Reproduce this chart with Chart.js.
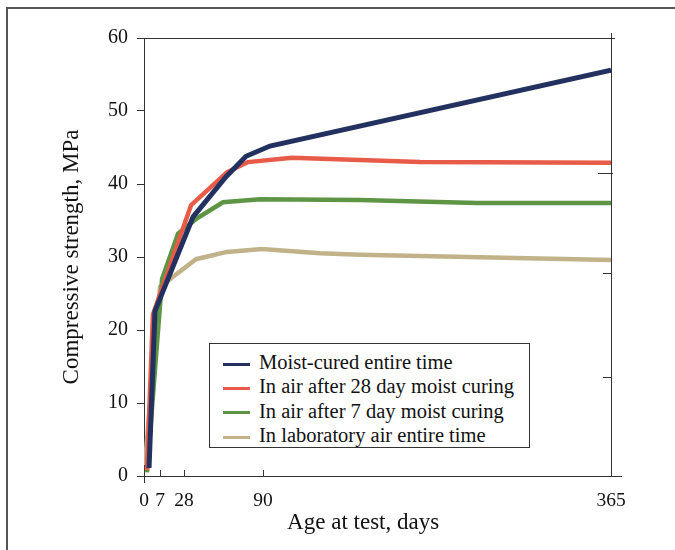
<!DOCTYPE html>
<html>
<head>
<meta charset="utf-8">
<script src="https://cdn.jsdelivr.net/npm/chart.js@4/dist/chart.umd.min.js"></script>
<style>
  body { margin: 0; background: #fff; }
  #wrap { position: relative; width: 675px; height: 550px; overflow: hidden; }
  #frame { position: absolute; left: 6px; top: 7px; width: 700px; height: 600px;
           border-top: 2px solid #555; border-left: 2px solid #555; }
  #legend { position: absolute; left: 209px; top: 343px; width: 321px; height: 105px;
            border: 1px solid #333; background: #fff; padding-top: 6px; box-sizing: border-box;
            font-family: "Liberation Serif", serif; font-size: 20.5px; color: #111; }
  #legend div { height: 24.3px; line-height: 24.3px; white-space: nowrap; }
  #legend span.sw { display: inline-block; width: 27px; height: 3px; margin: 0 9px 0 13px; vertical-align: middle; }
</style>
</head>
<body>
<div id="wrap">
  <div id="frame"></div>
  <canvas id="chart" width="675" height="550"></canvas>
  <div id="legend"></div>
</div>
<script>
// Data (age in days, strength in MPa)
const seriesLabels = [
  "Moist-cured entire time",
  "In air after 28 day moist curing",
  "In air after 7 day moist curing",
  "In laboratory air entire time"
];
const seriesColors = ["#22315f", "#e85b48", "#5e9545", "#c2b28a"];

const moistDays = [2.2, 4.8, 35.1, 61.0, 76.7, 95.5, 365];
const moistVals = [1.1, 22.6, 35.5, 41.0, 43.8, 45.2, 55.6];

const air28Days = [1.3, 3.9, 33.5, 61.7, 78.2, 112.9, 214.1, 365];
const air28Vals = [0.8, 22.1, 37.1, 41.6, 43.0, 43.6, 43.0, 42.9];

const air7Days = [1.3, 8.8, 22.8, 38.2, 58.6, 87.7, 166.6, 259.1, 365];
const air7Vals = [0.5, 27.0, 33.2, 35.3, 37.5, 37.9, 37.8, 37.4, 37.4];

const labDays = [0.4, 7.0, 18.4, 37.4, 61.7, 89.2, 135.0, 166.6, 365];
const labVals = [1.5, 25.9, 27.3, 29.7, 30.7, 31.1, 30.5, 30.3, 29.6];

const xTicks = [0, 7, 28, 90, 365];
const yTicks = [0, 10, 20, 30, 40, 50, 60];
const rightTicks = [41.5, 27.8, 13.6];

const allDays = [moistDays, air28Days, air7Days, labDays];
const allVals = [moistVals, air28Vals, air7Vals, labVals];

function points(days, vals) {
  return days.map((d, i) => ({ x: d, y: vals[i] }));
}

// The figure's day axis is stretched in pieces between its tick marks
const segStops = [0, 0.0343, 0.0857, 0.2548, 1];

class SegmentScale extends Chart.LinearScale {
  toDecimal(v) {
    for (let i = 1; i < xTicks.length; i++) {
      if (v <= xTicks[i] || i === xTicks.length - 1) {
        const t = (v - xTicks[i - 1]) / (xTicks[i] - xTicks[i - 1]);
        return segStops[i - 1] + t * (segStops[i] - segStops[i - 1]);
      }
    }
    return 0;
  }
  getPixelForValue(value) {
    if (value === null || isNaN(value)) return NaN;
    return this.getPixelForDecimal(this.toDecimal(value));
  }
  getValueForPixel(pixel) {
    const d = this.getDecimalForPixel(pixel);
    for (let i = 1; i < segStops.length; i++) {
      if (d <= segStops[i] || i === segStops.length - 1) {
        const t = (d - segStops[i - 1]) / (segStops[i] - segStops[i - 1]);
        return xTicks[i - 1] + t * (xTicks[i] - xTicks[i - 1]);
      }
    }
    return 0;
  }
}
SegmentScale.id = "segment";
SegmentScale.defaults = Chart.LinearScale.defaults;
Chart.register(SegmentScale);

// Build HTML legend
const legendEl = document.getElementById("legend");
seriesLabels.forEach((label, i) => {
  legendEl.innerHTML += `<div><span class="sw" style="background:${seriesColors[i]}"></span>${label}</div>`;
});

// Extra axis decorations: inward x ticks, frame lines, right-side marks
const axisDecor = {
  id: "axisDecor",
  afterDraw(chart) {
    const { ctx, chartArea: a, scales: { x, y } } = chart;
    ctx.save();
    ctx.strokeStyle = "#333";
    ctx.lineWidth = 1;
    ctx.beginPath();
    // top line
    ctx.moveTo(a.left - 7, a.top + 0.5);
    ctx.lineTo(a.right + 4, a.top + 0.5);
    // right line
    ctx.moveTo(a.right + 0.5, a.top - 5);
    ctx.lineTo(a.right + 0.5, a.bottom);
    // bottom line extension
    ctx.moveTo(a.left - 7, a.bottom + 0.5);
    ctx.lineTo(a.right + 11, a.bottom + 0.5);
    // x ticks
    xTicks.forEach((v) => {
      const px = Math.round(x.getPixelForValue(v)) + 0.5;
      if (v === 0) {
        ctx.moveTo(px, a.bottom);
        ctx.lineTo(px, a.bottom + 7);
      } else if (v !== 365) {
        ctx.moveTo(px, a.bottom);
        ctx.lineTo(px, a.bottom - 6);
      }
    });
    // right side marks
    rightTicks.forEach((v, i) => {
      const py = Math.round(y.getPixelForValue(v)) + 0.5;
      ctx.moveTo(a.right - (i === 0 ? 13 : 8), py);
      ctx.lineTo(a.right + (i === 0 ? 2 : 0), py);
    });
    ctx.stroke();
    ctx.restore();
  }
};

const ctx = document.getElementById("chart").getContext("2d");

new Chart(ctx, {
  type: "line",
  data: {
    datasets: seriesLabels.map((label, i) => ({
      label: label,
      data: points(allDays[i], allVals[i]),
      borderColor: seriesColors[i],
      backgroundColor: seriesColors[i],
      borderWidth: i === 0 ? 5 : 4.5,
      pointRadius: 0,
      tension: 0,
      fill: false,
      borderJoinStyle: "miter"
    }))
  },
  options: {
    responsive: false,
    animation: false,
    layout: { padding: { top: 38, right: 64, left: 0, bottom: 0 } },
    plugins: {
      legend: { display: false },
      tooltip: { enabled: false }
    },
    scales: {
      x: {
        type: "segment",
        min: 0,
        max: 365,
        afterFit: (scale) => { scale.height = 74; },
        afterBuildTicks: (scale) => { scale.ticks = xTicks.map((v) => ({ value: v })); },
        grid: { display: false },
        border: { display: true, color: "#333", width: 1 },
        ticks: {
          autoSkip: false,
          maxRotation: 0,
          padding: 5,
          color: "#111",
          font: { family: "Liberation Serif", size: 19.5 }
        },
        title: {
          display: true,
          text: "Age at test, days     ",
          color: "#111",
          font: { family: "Liberation Serif", size: 23 },
          padding: { top: 0, bottom: 13 }
        }
      },
      y: {
        min: 0,
        max: 60,
        afterFit: (scale) => { scale.width = 144; },
        afterBuildTicks: (scale) => { scale.ticks = yTicks.map((v) => ({ value: v })); },
        grid: { display: true, drawOnChartArea: false, drawTicks: true, tickLength: 7, color: "#333" },
        border: { display: true, color: "#333", width: 1 },
        ticks: {
          padding: 9,
          color: "#111",
          font: { family: "Liberation Serif", size: 20 }
        },
        title: {
          display: true,
          text: "Compressive strength, MPa",
          color: "#111",
          font: { family: "Liberation Serif", size: 23 },
          padding: { top: 58, bottom: 0 }
        }
      }
    }
  },
  plugins: [axisDecor]
});
</script>
</body>
</html>
